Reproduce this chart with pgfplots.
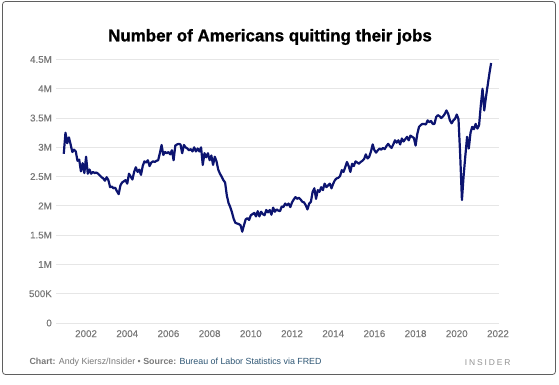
\documentclass[border=0pt]{standalone}
\usepackage{pgfplots}
\usepackage{pgfplotstable}
\pgfplotsset{compat=1.18}
\usepackage{fontspec}
\setmainfont{Liberation Sans}
\definecolor{navy}{RGB}{12,20,112}
\definecolor{tickgray}{RGB}{120,120,120}
\definecolor{gridgray}{RGB}{230,230,230}
\definecolor{footgray}{RGB}{120,120,120}
\definecolor{srcblue}{RGB}{45,85,115}
\definecolor{framegray}{RGB}{95,95,95}

\pgfplotstableread[row sep=\\]{
v\\
2.89\\
3.25\\ 3.07\\ 3.17\\ 3.05\\ 2.92\\ 2.96\\ 2.93\\ 2.77\\ 2.79\\ 2.59\\ 2.73\\ 2.56\\
2.84\\ 2.55\\ 2.62\\ 2.55\\ 2.58\\ 2.56\\ 2.57\\ 2.55\\ 2.52\\ 2.49\\ 2.47\\ 2.43\\
2.49\\ 2.44\\ 2.32\\ 2.33\\ 2.30\\ 2.31\\ 2.25\\ 2.20\\ 2.35\\ 2.40\\ 2.42\\ 2.44\\
2.38\\ 2.55\\ 2.50\\ 2.45\\ 2.58\\ 2.66\\ 2.58\\ 2.62\\ 2.53\\ 2.68\\ 2.76\\ 2.74\\
2.78\\ 2.68\\ 2.74\\ 2.76\\ 2.75\\ 2.77\\ 2.78\\ 2.90\\ 3.04\\ 2.87\\ 2.92\\ 2.90\\
2.92\\ 2.88\\ 2.95\\ 2.78\\ 3.03\\ 3.05\\ 3.06\\ 3.05\\ 2.90\\ 3.04\\ 3.00\\ 2.98\\
2.95\\ 2.97\\ 2.93\\ 3.00\\ 2.93\\ 2.98\\ 2.93\\ 3.00\\ 2.70\\ 2.90\\ 2.83\\ 2.90\\
2.78\\ 2.86\\ 2.70\\ 2.84\\ 2.76\\ 2.62\\ 2.55\\ 2.50\\ 2.44\\ 2.40\\ 2.18\\ 2.05\\
1.98\\ 1.89\\ 1.78\\ 1.71\\ 1.70\\ 1.69\\ 1.67\\ 1.56\\ 1.67\\ 1.77\\ 1.79\\ 1.76\\
1.84\\ 1.86\\ 1.88\\ 1.82\\ 1.91\\ 1.82\\ 1.90\\ 1.86\\ 1.84\\ 1.93\\ 1.89\\ 1.93\\
1.85\\ 1.97\\ 1.90\\ 1.94\\ 1.92\\ 1.91\\ 1.99\\ 1.98\\ 2.04\\ 2.01\\ 2.04\\ 1.98\\
2.06\\ 2.11\\ 2.15\\ 2.12\\ 2.14\\ 2.11\\ 2.07\\ 2.06\\ 2.01\\ 1.94\\ 2.04\\ 2.07\\
2.24\\ 2.30\\ 2.12\\ 2.27\\ 2.24\\ 2.32\\ 2.27\\ 2.38\\ 2.32\\ 2.35\\ 2.38\\ 2.30\\
2.38\\ 2.44\\ 2.47\\ 2.48\\ 2.51\\ 2.61\\ 2.58\\ 2.66\\ 2.75\\ 2.68\\ 2.58\\ 2.72\\
2.68\\ 2.76\\ 2.74\\ 2.72\\ 2.75\\ 2.77\\ 2.80\\ 2.88\\ 2.81\\ 2.84\\ 2.93\\ 3.05\\
2.95\\ 2.91\\ 2.95\\ 2.98\\ 2.96\\ 2.99\\ 2.97\\ 3.02\\ 3.06\\ 3.02\\ 2.99\\ 3.05\\
3.12\\ 3.08\\ 3.12\\ 3.05\\ 3.15\\ 3.10\\ 3.14\\ 3.18\\ 3.12\\ 3.20\\ 3.18\\ 3.16\\
3.03\\ 3.23\\ 3.35\\ 3.38\\ 3.40\\ 3.40\\ 3.39\\ 3.46\\ 3.43\\ 3.45\\ 3.40\\ 3.40\\
3.52\\ 3.55\\ 3.53\\ 3.50\\ 3.53\\ 3.57\\ 3.63\\ 3.57\\ 3.46\\ 3.41\\ 3.46\\ 3.49\\
3.56\\ 3.48\\ 2.86\\ 2.10\\ 2.52\\ 2.86\\ 3.18\\ 2.98\\ 3.25\\ 3.35\\ 3.31\\ 3.40\\
3.32\\ 3.38\\ 3.72\\ 4.00\\ 3.63\\ 3.86\\ 4.06\\ 4.26\\ 4.44\\
}\quits

\begin{document}
\begin{tikzpicture}[x=1bp,y=1bp]
\useasboundingbox (0,0) rectangle (559,384);
\draw[rounded corners=3bp, draw=framegray, line width=0.8bp] (2.5,9.5) rectangle (555.5,382.5);
\node[font=\bfseries\fontsize{17}{20}\selectfont\addfontfeature{FakeBold=1.2}, anchor=center] at (270,347) {Number of Americans quitting their jobs};
\begin{axis}[
  at={(56bp,61bp)}, anchor=south west,
  scale only axis, width=443bp, height=263.5bp,
  xmin=2000.54, xmax=2022.05, ymin=0, ymax=4.5,
  axis line style={draw=none}, tick style={draw=none},
  xtick={2002,2004,2006,2008,2010,2012,2014,2016,2018,2020,2022},
  xticklabels={2002,2004,2006,2008,2010,2012,2014,2016,2018,2020,2022},
  ytick={0,0.5,1,1.5,2,2.5,3,3.5,4,4.5},
  yticklabels={0,500K,1M,1.5M,2M,2.5M,3M,3.5M,4M,4.5M},
  ymajorgrids, major grid style={gridgray, line width=0.9bp},
  ticklabel style={font=\fontsize{9.8}{11}\selectfont\addfontfeature{FakeBold=0.3}, text=tickgray, inner sep=0pt},
  yticklabel style={anchor=east, xshift=-4bp},
  xticklabel style={anchor=north, yshift=-7bp},
  clip=false,
]
\addplot[navy, line width=2.2bp, line join=round, mark=none] table[x expr=2000.9167+\coordindex/12, y=v]{\quits};
\end{axis}
\node[anchor=west, font=\fontsize{8.9}{10}\selectfont, text=footgray] at (26,21.5) {\textbf{Chart:} Andy Kiersz/Insider • \textbf{Source:} \textcolor{srcblue}{Bureau of Labor Statistics via FRED}};
\node[anchor=east, font=\fontsize{8.5}{10}\selectfont\addfontfeature{LetterSpace=22}, text=tickgray!80] at (514,21.5) {INSIDER};
\end{tikzpicture}
\end{document}
